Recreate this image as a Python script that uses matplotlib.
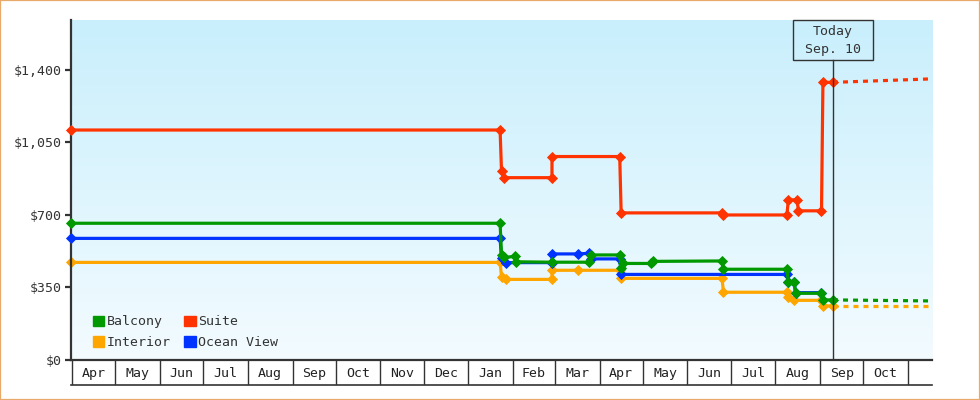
import matplotlib
matplotlib.use('Agg')
import matplotlib.pyplot as plt
import matplotlib.dates as mdates
import matplotlib.transforms as mtrans
import numpy as np
import pandas as pd
from matplotlib.colors import LinearSegmentedColormap
from matplotlib.patches import Rectangle, Patch

plt.rcParams['font.family'] = ['DejaVu Sans Mono', 'DejaVu Sans']
plt.rcParams['lines.scale_dashes'] = False

# ---------------- data ----------------
suite_dates = ['2023-03-31', '2024-01-23', '2024-01-24', '2024-01-26', '2024-02-28', '2024-02-28',
               '2024-04-15', '2024-04-16', '2024-06-25', '2024-06-26', '2024-08-09', '2024-08-10',
               '2024-08-16', '2024-08-17', '2024-09-02', '2024-09-03', '2024-09-10']
suite_prices = [1110, 1110, 910, 880, 880, 982, 982, 710, 710, 700, 700, 773, 773, 720, 720, 1340, 1340]

balcony_dates = ['2023-03-31', '2024-01-23', '2024-01-24', '2024-01-26', '2024-02-02', '2024-02-03',
                 '2024-02-28', '2024-03-25', '2024-03-26', '2024-04-15', '2024-04-16', '2024-04-17',
                 '2024-05-07', '2024-05-08', '2024-06-25', '2024-06-26', '2024-08-09', '2024-08-10',
                 '2024-08-14', '2024-08-15', '2024-09-02', '2024-09-03', '2024-09-10']
balcony_prices = [660, 660, 507, 495, 500, 474, 472, 472, 507, 507, 444, 466, 466, 476, 478, 438,
                  438, 375, 375, 322, 322, 290, 290]

interior_dates = ['2023-03-31', '2024-01-23', '2024-01-24', '2024-01-27', '2024-02-28', '2024-02-28',
                  '2024-03-17', '2024-04-15', '2024-04-16', '2024-06-25', '2024-06-26', '2024-08-09',
                  '2024-08-10', '2024-08-14', '2024-09-02', '2024-09-03', '2024-09-10']
interior_prices = [471, 471, 402, 389, 389, 433, 433, 433, 394, 394, 327, 327, 306, 288, 288, 261, 261]

ocean_dates = ['2023-03-31', '2024-01-23', '2024-01-24', '2024-01-27', '2024-02-28', '2024-02-28',
               '2024-03-17', '2024-03-25', '2024-03-26', '2024-04-15', '2024-04-16', '2024-08-09',
               '2024-08-10', '2024-08-14', '2024-08-15', '2024-09-02']
ocean_prices = [587, 587, 490, 470, 470, 512, 512, 515, 488, 488, 413, 413, 378, 378, 325, 325]

forecast_dates = ['2024-09-10', '2024-11-18']
suite_forecast = [1340, 1357]
balcony_forecast = [290, 285]
interior_forecast = [261, 261]

today = '2024-09-10'
today_label = ['Today', 'Sep. 10']
x_start = '2023-03-31 07:00'
x_end = '2024-11-17 16:00'
y_top = 1641
y_ticks = [0, 350, 700, 1050, 1400]
y_tick_labels = ['$0', '$350', '$700', '$1,050', '$1,400']
month_starts = ['2023-04-01', '2023-05-01', '2023-06-01', '2023-07-01', '2023-08-01', '2023-09-01',
                '2023-10-01', '2023-11-01', '2023-12-01', '2024-01-01', '2024-02-01', '2024-03-01',
                '2024-04-01', '2024-05-01', '2024-06-01', '2024-07-01', '2024-08-01', '2024-09-01',
                '2024-10-01', '2024-11-01']
month_labels = ['Apr', 'May', 'Jun', 'Jul', 'Aug', 'Sep', 'Oct', 'Nov', 'Dec', 'Jan', 'Feb', 'Mar',
                'Apr', 'May', 'Jun', 'Jul', 'Aug', 'Sep', 'Oct']

C_BAL = '#009900'
C_SUI = '#ff3300'
C_INT = '#ffa500'
C_OCE = '#0033ff'
DARK = '#333333'
FS = 9.5

def d(lst):
    return mdates.date2num(pd.to_datetime(lst))

# ---------------- figure ----------------
fig = plt.figure(figsize=(9.8, 4.0), dpi=100)
fig.patch.set_facecolor('white')
fig.patches.append(Rectangle((0, 0), 1, 1, transform=fig.transFigure, fill=False,
                             edgecolor='#e8a96b', lw=1.6, zorder=10))

ax = fig.add_axes([71 / 980, 40 / 400, 861 / 980, 340 / 400])
grad = np.linspace(0, 1, 256).reshape(-1, 1)
cmap = LinearSegmentedColormap.from_list('bg', ['#f3fbff', '#c9effc'])
ax.imshow(grad, extent=[0, 1, 0, 1], transform=ax.transAxes, aspect='auto',
          cmap=cmap, origin='lower', zorder=0, interpolation='bicubic')

lw = 2.3
ms = 4.8
series = [
    (interior_dates, interior_prices, C_INT, 3),
    (ocean_dates, ocean_prices, C_OCE, 3.2),
    (balcony_dates, balcony_prices, C_BAL, 3.4),
    (suite_dates, suite_prices, C_SUI, 3.6),
]
for dates, prices, col, z in series:
    ax.plot(d(dates), prices, color=col, lw=lw, marker='D', ms=ms, mew=0.6, mec=col,
            zorder=z, clip_on=False)

for fc, col, z in [(interior_forecast, C_INT, 3), (balcony_forecast, C_BAL, 3.4),
                   (suite_forecast, C_SUI, 3.6)]:
    ax.plot(d(forecast_dates), fc, color=col, lw=lw, dashes=(3.6, 3.6), zorder=z,
            dash_capstyle='butt')

xmin, xmax = d([x_start, x_end])
ax.set_xlim(xmin, xmax)
ax.set_ylim(0, y_top)
ax.set_xticks([])
ax.set_yticks(y_ticks)
ax.set_yticklabels(y_tick_labels)
ax.tick_params(axis='y', length=4.5, width=1.6, pad=2, colors=DARK, labelsize=FS)
for s in ['top', 'right']:
    ax.spines[s].set_visible(False)
for s in ['left', 'bottom']:
    ax.spines[s].set_color(DARK)
    ax.spines[s].set_linewidth(1.6)
    ax.spines[s].set_zorder(3.05)

# today marker
tnum = d([today])[0]
box_h = 40 / 340
px_per_day = (861) / (xmax - xmin)
box_w = 80 / px_per_day
ax.axvline(tnum, ymin=0, ymax=1 - box_h, color=DARK, lw=1.0, zorder=5)
blend = mtrans.blended_transform_factory(ax.transData, ax.transAxes)
ax.add_patch(Rectangle((tnum - box_w / 2, 1 - box_h), box_w, box_h, transform=blend,
                       fill=False, edgecolor=DARK, lw=1.0, clip_on=False, zorder=6))
ax.text(tnum, 1 - 12 / 340, today_label[0], transform=blend, ha='center', va='center',
        fontsize=FS, color=DARK, zorder=6)
ax.text(tnum, 1 - 30 / 340, today_label[1], transform=blend, ha='center', va='center',
        fontsize=FS, color=DARK, zorder=6)

# legend
handles = [Patch(color=C_BAL), Patch(color=C_INT), Patch(color=C_SUI), Patch(color=C_OCE)]
labels = ['Balcony', 'Interior', 'Suite', 'Ocean View']
leg = ax.legend(handles, labels, loc='lower left',
                bbox_to_anchor=((93 - 71) / 861, (360 - 349) / 340), ncol=2, frameon=False,
                fontsize=FS, handlelength=0.85, handleheight=0.85, handletextpad=0.22,
                columnspacing=1.0, labelspacing=0.57, borderpad=0, borderaxespad=0)
for t in leg.get_texts():
    t.set_color(DARK)

# month boxes
axm = fig.add_axes([71 / 980, 15 / 400, 861 / 980, 25 / 400])
axm.set_xlim(xmin, xmax)
axm.set_ylim(0, 1)
axm.patch.set_visible(False)
axm.set_xticks([])
axm.set_yticks([])
for s in ['top', 'left', 'right']:
    axm.spines[s].set_visible(False)
axm.spines['bottom'].set_color(DARK)
axm.spines['bottom'].set_linewidth(1.2)
ms_num = d(month_starts)
axm.vlines(ms_num, 0, 1, color=DARK, lw=1.0)
for i, lab in enumerate(month_labels):
    axm.text((ms_num[i] + ms_num[i + 1]) / 2, 0.47, lab, ha='center', va='center',
             fontsize=FS, color='#222222')

fig.savefig('out.png', dpi=100)
